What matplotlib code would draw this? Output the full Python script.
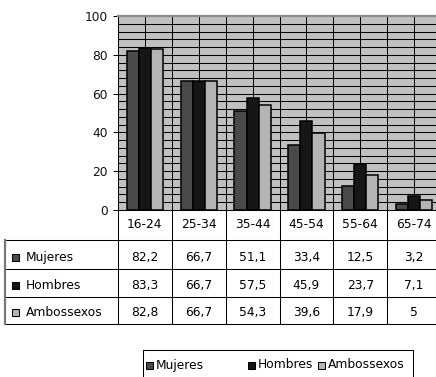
import matplotlib
matplotlib.use("Agg")
import matplotlib.pyplot as plt
import matplotlib.transforms as mtransforms
from matplotlib.patches import Rectangle
import numpy as np

categories = ['16-24', '25-34', '35-44', '45-54', '55-64', '65-74']
series_names = ['Mujeres', 'Hombres', 'Ambossexos']
mujeres = [82.2, 66.7, 51.1, 33.4, 12.5, 3.2]
hombres = [83.3, 66.7, 57.5, 45.9, 23.7, 7.1]
ambos = [82.8, 66.7, 54.3, 39.6, 17.9, 5]
colors = ['#4a4a4a', '#161616', '#b4b4b4']

plt.rcParams['font.family'] = ['DejaVu Sans']
FS = 8.8

W, H = 436, 377
LW = 0.75  # about one pixel

fig = plt.figure(figsize=(W / 100, H / 100), dpi=100)
# pixel coordinates, origin top-left
px = mtransforms.Affine2D().scale(1 / W, -1 / H).translate(0, 1) + fig.transFigure

left, right, top, bottom = 118, 441, 16, 210
ax = fig.add_axes([left / W, 1 - bottom / H, (right - left) / W, (bottom - top) / H])
ax.set_facecolor('#c0c0c0')
ax.set_xlim(-0.5, len(categories) - 0.5)
ax.set_ylim(0, 100)

for yv in range(4, 100, 4):
    ax.axhline(yv, color='black', lw=LW, zorder=1)
for xv in np.arange(0, len(categories), 0.5):
    ax.axvline(xv, color='black', lw=LW, zorder=1)

x = np.arange(len(categories))
bw = 0.225
all_series = [mujeres, hombres, ambos]
for i, (vals, c) in enumerate(zip(all_series, colors)):
    ax.bar(x + (i - 1) * bw, vals, width=bw, color=c, edgecolor='black',
           linewidth=1.1, zorder=3)

ax.spines['right'].set_visible(False)
ax.spines['top'].set_color('#8c8c8c')
ax.spines['top'].set_linewidth(1.6)
ax.spines['left'].set_linewidth(LW)
ax.spines['bottom'].set_linewidth(LW)
ax.set_xticks([])
ax.set_yticks(range(0, 101, 20))
ax.tick_params(axis='y', length=3.5, width=LW, pad=4, labelsize=FS,
               labelcolor='#111111')

# data table below the plot
blend = mtransforms.blended_transform_factory(ax.transData, px)
row_lines = [240, 269, 297, 324]
row_text_y = [257.5, 285.5, 312.5]

def fmt(v):
    return f"{v:g}".replace('.', ',')

for k in range(len(categories) + 1):
    fig.add_artist(plt.Line2D([k - 0.5, k - 0.5], [bottom, row_lines[-1]],
                              transform=blend, color='black', lw=LW))
for j, cat in enumerate(categories):
    fig.text(j, 225, cat, transform=blend, ha='center', va='center', fontsize=FS)
for yl in row_lines:
    fig.add_artist(plt.Line2D([5, right], [yl, yl], transform=px, color='black', lw=LW))
fig.add_artist(plt.Line2D([5, 5], [row_lines[0], row_lines[-1]], transform=px,
                          color='#777777', lw=1.6))

for name, vals, c, ty in zip(series_names, all_series, colors, row_text_y):
    fig.add_artist(Rectangle((12, ty - 3.5), 7, 7, transform=px, facecolor=c,
                             edgecolor='black', lw=LW))
    fig.text(26, ty, name, transform=px, ha='left', va='center', fontsize=FS)
    for j, v in enumerate(vals):
        fig.text(j, ty, fmt(v), transform=blend, ha='center', va='center', fontsize=FS)

# legend box (its bottom runs past the picture edge)
fig.add_artist(Rectangle((143, 350), 270, 40, transform=px, facecolor='white',
                         edgecolor='black', lw=LW))
leg_x = [146, 248, 318]
for name, c, lx in zip(series_names, colors, leg_x):
    fig.add_artist(Rectangle((lx, 361.5), 7, 7, transform=px, facecolor=c,
                             edgecolor='black', lw=LW))
    fig.text(lx + 9.5, 365, name, transform=px, ha='left', va='center', fontsize=FS)

fig.savefig('out.png', dpi=100)
